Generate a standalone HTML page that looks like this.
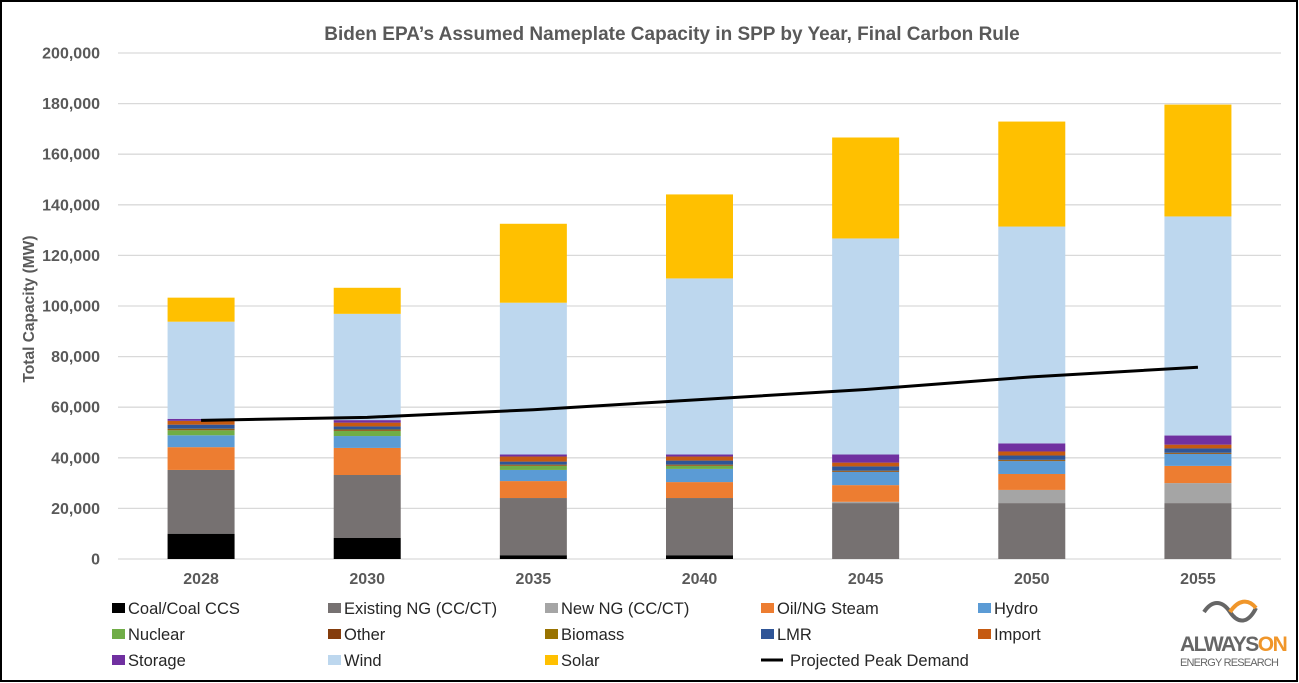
<!DOCTYPE html>
<html><head><meta charset="utf-8"><style>
html,body{margin:0;padding:0;background:#fff}
svg{display:block;font-family:"Liberation Sans",Arial,sans-serif}
</style></head><body>
<svg id="chart" width="1299" height="683" viewBox="0 0 1299 683">
<rect x="1" y="1" width="1296" height="680" fill="#fff" stroke="#000" stroke-width="2"/>
<text x="672" y="40" text-anchor="middle" font-size="19" font-weight="bold" fill="#595959">Biden EPA’s Assumed Nameplate Capacity in SPP by Year, Final Carbon Rule</text>
<text transform="translate(34,309) rotate(-90)" text-anchor="middle" font-size="15.5" font-weight="bold" fill="#595959">Total Capacity (MW)</text>
<g id="grid"></g><g id="bars"></g><g id="line"></g><g id="legend"></g>
<g>
<path d="M1204,612 c8,-12 18,-12 26,0 c8,12 18,12 26,-4" fill="none" stroke="#666" stroke-width="4"/>
<path d="M1230,612 c8,-12 18,-14 26,-4" fill="none" stroke="#f0962a" stroke-width="4"/>
<text x="1180" y="651" font-size="21" font-weight="bold" fill="#666" letter-spacing="-1.5">ALWAYS<tspan fill="#f0962a">ON</tspan></text>
<text x="1180" y="666" font-size="11" fill="#666" textLength="99">ENERGY RESEARCH</text>
</g>
</svg>
<script>
const years=["2028","2030","2035","2040","2045","2050","2055"];
const seriesNames=["Coal/Coal CCS","Existing NG (CC/CT)","New NG (CC/CT)","Oil/NG Steam","Hydro","Nuclear","Other","Biomass","LMR","Import","Storage","Wind","Solar"];
const seriesColors=["#000000","#767171","#a5a5a5","#ed7d31","#5b9bd5","#70ad47","#843c0c","#997300","#2f5597","#c55a11","#7030a0","#bdd7ee","#ffc000"];
const coal=[10000,8300,1500,1500,0,0,0];
const existingNG=[25200,24900,22600,22600,22100,22100,22100];
const newNG=[0,0,0,0,500,5200,7900];
const oilSteam=[9000,10700,6700,6300,6600,6300,6800];
const hydro=[4700,4700,4400,5200,5200,5100,4700];
const nuclear=[2000,2000,1600,1200,0,0,0];
const other=[300,300,300,300,300,300,300];
const biomass=[300,300,200,200,200,200,200];
const lmr=[1600,1200,1200,1600,1700,1700,1700];
const importCap=[1500,1500,2000,1600,1500,1600,1500];
const storage=[800,1000,800,800,3200,3200,3600];
const wind=[38400,42000,60000,69600,85400,85700,86600];
const solar=[9500,10300,31200,33200,39900,41500,44200];
const peakDemand=[54800,56000,59000,63000,67000,72000,75800];
const yTicks=[0,20000,40000,60000,80000,100000,120000,140000,160000,180000,200000];
const series=[coal,existingNG,newNG,oilSteam,hydro,nuclear,other,biomass,lmr,importCap,storage,wind,solar];
const NS="http://www.w3.org/2000/svg";
const X0=118,X1=1281,Y0=559,Y1=53,YMAX=200000;
const band=(X1-X0)/years.length;
const y=v=>Y0-(v/YMAX)*(Y0-Y1);
const xc=i=>X0+band*(i+0.5);
function mk(t,a,p){const e=document.createElementNS(NS,t);for(const k in a)e.setAttribute(k,a[k]);p.appendChild(e);return e;}
const grid=document.getElementById('grid');
yTicks.forEach(t=>{
 const l=mk('line',{x1:X0,x2:X1,y1:y(t),y2:y(t),stroke:'#d9d9d9','stroke-width':1.3},grid);
 
 
 const tx=mk('text',{x:100,y:y(t)+5.5,'text-anchor':'end','font-size':16,'font-weight':'bold',fill:'#595959'},grid);
 tx.textContent=t.toLocaleString('en-US');
 
 
});
const bars=document.getElementById('bars');
const BW=67;
years.forEach((yr,i)=>{
 let acc=0;
 series.forEach((s,k)=>{
  const v=s[i]; if(v<=0)return;
  const r=mk('rect',{x:xc(i)-BW/2,y:y(acc+v),width:BW,height:y(acc)-y(acc+v),fill:seriesColors[k]},bars);
  
  
  acc+=v;
 });
 const t=mk('text',{x:xc(i),y:584,'text-anchor':'middle','font-size':16,'font-weight':'bold',fill:'#595959'},bars);
 t.textContent=yr;
 
 
});
const pts=peakDemand.map((v,i)=>xc(i)+','+y(v)).join(' ');
const pl=mk('polyline',{points:pts,fill:'none',stroke:'#000','stroke-width':3},document.getElementById('line'));


const legendNames=seriesNames.concat(["Projected Peak Demand"]);
const lg=document.getElementById('legend');
const colX=[112,328,545,761,978],rowY=[608,634,660];
legendNames.forEach((n,i)=>{
 const cx=colX[i%5],cy=rowY[Math.floor(i/5)];
 const g=mk('g',{},lg);
 
 
 let tx=cx+16;
 if(i<seriesColors.length) mk('rect',{x:cx,y:cy-5,width:13,height:10,fill:seriesColors[i]},g);
 else {mk('line',{x1:cx,x2:cx+22,y1:cy,y2:cy,stroke:'#000','stroke-width':3},g); tx=cx+29;}
 const t=mk('text',{x:tx,y:cy+6,'font-size':16.5,fill:'#262626'},g);
 t.textContent=n;
});
</script>
</body></html>
